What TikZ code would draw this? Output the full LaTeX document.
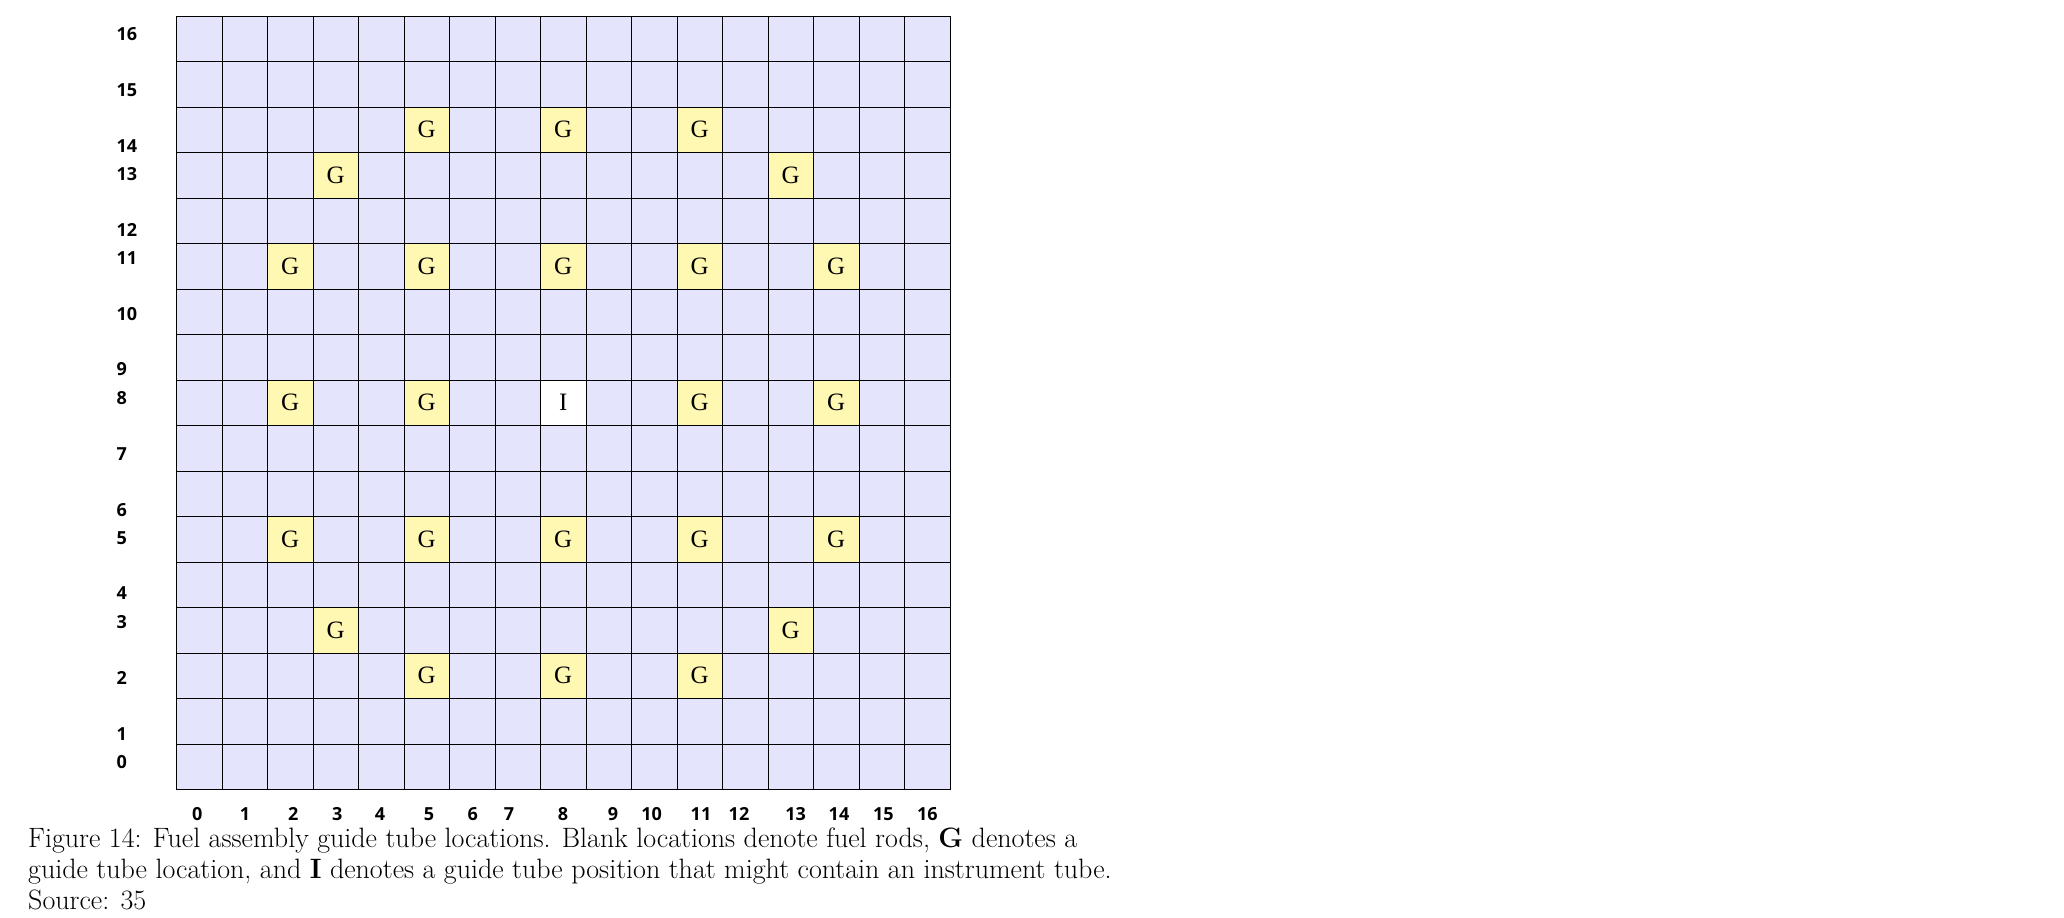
\documentclass[tikz,border=0pt]{standalone}
\usepackage{fontspec}
\usepackage{tikz}
\newfontfamily\axisfont{Open Sans}
\newfontfamily\cellfont{Liberation Serif}

\definecolor{rodfill}{RGB}{228,228,252}
\definecolor{guidefill}{RGB}{255,248,178}

\begin{document}
\begin{tikzpicture}[x=1pt,y=-1pt,
    rod/.style={rectangle,draw,line width=1pt,fill=rodfill,minimum size=45.5pt,inner sep=0pt},
    guide/.style={rod,fill=guidefill,font=\cellfont\fontsize{25}{25}\selectfont},
    instr/.style={guide,fill=white},
    ylab/.style={anchor=west,inner sep=0pt,font=\axisfont\bfseries\fontsize{18}{18}\selectfont},
    xlab/.style={anchor=center,inner sep=0pt,font=\axisfont\bfseries\fontsize{18}{18}\selectfont},
    capline/.style={anchor=base west,inner sep=0pt,font=\fontsize{28}{32}\selectfont}]
\useasboundingbox (0,0) rectangle (2064,918);
% fuel rods
\foreach \c in {0,...,16}
  \foreach \r in {0,...,16}
    \node[rod] (c-\c-\r) at ({176.5+45.5*(\c+0.5)},{16+45.5*(\r+0.5)}) {};
% guide tubes
\foreach \c/\r in {5/2,8/2,11/2, 3/3,13/3,
    2/5,5/5,8/5,11/5,14/5, 2/8,5/8,11/8,14/8,
    2/11,5/11,8/11,11/11,14/11, 3/13,13/13, 5/14,8/14,11/14}
  \node[guide] (g-\c-\r) at (c-\c-\r) {G};
\node[instr] (i-8-8) at (c-8-8) {I};
% axis labels
\foreach \n/\y in {16/34.3,15/90.3,14/146.5,13/174.3,12/230,11/258.3,10/314,9/369.3,
    8/398.3,7/454,6/510,5/537.7,4/593.3,3/621.7,2/677.7,1/734,0/761.7}
  \node[ylab] (ylab-\n) at (116.5,\y) {\n};
\foreach \n/\x in {0/197.3,1/245,2/293.3,3/337.3,4/380,5/429,6/472.7,7/509,8/563,
    9/613,10/651.7,11/701,12/739,13/795.7,14/839,15/883.3,16/927.3}
  \node[xlab] (xlab-\n) at (\x,814) {\n};
% caption
\node[capline] (cap1) at (28,847) {Figure 14: Fuel assembly guide tube locations. Blank locations denote fuel rods, \textbf{G} denotes a};
\node[capline] (cap2) at (28,878) {guide tube location, and \textbf{I} denotes a guide tube position that might contain an instrument tube.};
\node[capline] (cap3) at (28,909) {Source: 35};
\end{tikzpicture}
\end{document}
